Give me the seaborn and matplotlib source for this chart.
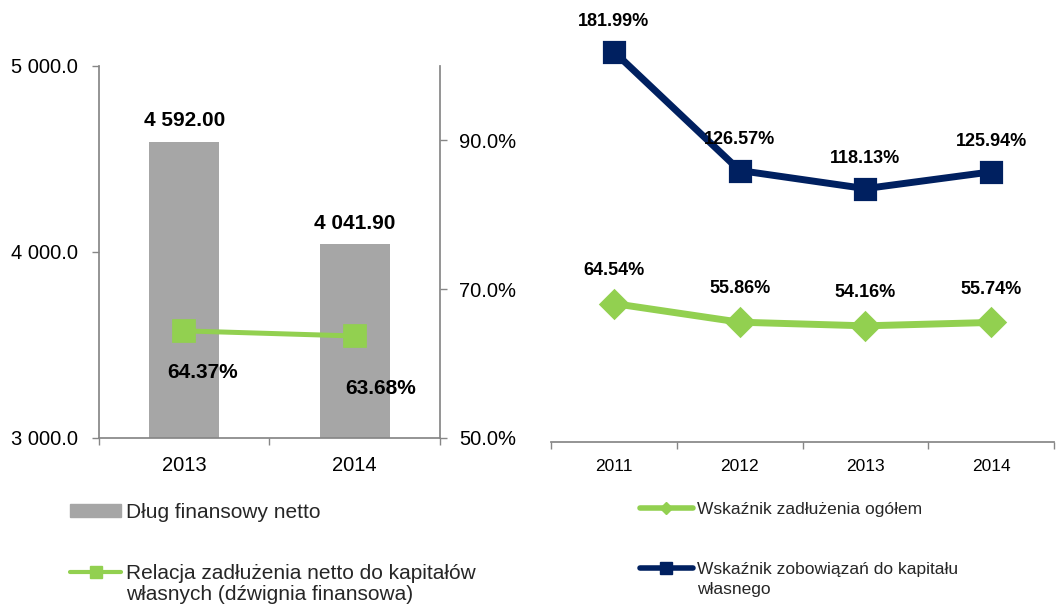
import matplotlib
matplotlib.use("Agg")
import matplotlib.pyplot as plt
from matplotlib.ticker import FuncFormatter
from matplotlib.lines import Line2D
from matplotlib.patches import Patch
import seaborn as sns
import pandas as pd

# left panel: net financial debt + leverage ratio
years_left = ["2013", "2014"]
net_debt = [4592.00, 4041.90]
leverage = [64.37, 63.68]

# right panel: debt ratios
years_right = ["2011", "2012", "2013", "2014"]
debt_ratio = [64.54, 55.86, 54.16, 55.74]
liab_equity = [181.99, 126.57, 118.13, 125.94]

GRAY = "#A6A6A6"
GREEN = "#92D050"
NAVY = "#002060"
AXIS = "#868686"

sns.set_theme(style="white")
plt.rcParams["font.family"] = ["Liberation Sans", "DejaVu Sans"]

fig = plt.figure(figsize=(10.64, 6.07), dpi=100)
ax1 = fig.add_axes([0.0930, 0.2789, 0.3205, 0.6124])
ax2 = ax1.twinx()
ax3 = fig.add_axes([0.5179, 0.2718, 0.4727, 0.7068])

left_df = pd.DataFrame({"year": years_left, "debt": net_debt, "lev": leverage})
right_df = pd.DataFrame({"year": years_right, "total": debt_ratio, "liab": liab_equity})

# --- left panel ---
sns.barplot(data=left_df, x="year", y="debt", color=GRAY, width=0.41,
            saturation=1, edgecolor=GRAY, linewidth=0, ax=ax1)
sns.pointplot(data=left_df, x="year", y="lev", color=GREEN, markers="s",
              markersize=14, linewidth=3.6, errorbar=None, ax=ax2)

ax1.set_ylim(3000, 5000)
ax1.set_yticks([3000, 4000, 5000])
ax1.yaxis.set_major_formatter(FuncFormatter(lambda v, p: f"{v:,.1f}".replace(",", " ")))
ax2.set_ylim(50, 100)
ax2.set_yticks([50, 70, 90])
ax2.yaxis.set_major_formatter(FuncFormatter(lambda v, p: f"{v:.1f}%"))

ax1.set_xlim(-0.5, 1.5)
ax1.set_xticks([0, 1])
ax1.set_xticklabels(years_left)
ax1.set_xticks([-0.5, 0.5, 1.5], minor=True)
ax1.tick_params(axis="x", which="major", length=0, pad=13, labelsize=14.5, colors="black")
ax1.tick_params(axis="x", which="minor", bottom=True, length=5, width=1, color=AXIS)
ax1.tick_params(axis="y", left=True, length=5, width=1, color=AXIS, pad=10,
                labelsize=14.5, labelcolor="black")
ax2.tick_params(axis="y", right=True, length=5, width=1, color=AXIS, pad=9,
                labelsize=14.5, labelcolor="black")

for sp in ["top", "right"]:
    ax1.spines[sp].set_visible(False)
for sp in ["left", "bottom"]:
    ax1.spines[sp].set_color(AXIS)
for sp in ["top", "left", "bottom"]:
    ax2.spines[sp].set_visible(False)
ax2.spines["right"].set_color(AXIS)
for ax in (ax1, ax2):
    ax.set_xlabel("")
    ax.set_ylabel("")

for i, v in enumerate(net_debt):
    ax1.annotate(f"{v:,.2f}".replace(",", " "), (i, v), xytext=(0, 15),
                 textcoords="offset points", ha="center", va="center",
                 fontsize=15, fontweight="bold", color="black")

lev_offsets = [(13, -30), (19, -38)]
for i, v in enumerate(leverage):
    ax2.annotate(f"{v:.2f}%", (i, v), xytext=lev_offsets[i],
                 textcoords="offset points", ha="center", va="center",
                 fontsize=15, fontweight="bold", color="black")

# --- right panel ---
sns.pointplot(data=right_df, x="year", y="total", color=GREEN, markers="D",
              markersize=12, linewidth=5, errorbar=None, ax=ax3)
sns.pointplot(data=right_df, x="year", y="liab", color=NAVY, markers="s",
              markersize=13, linewidth=5, errorbar=None, ax=ax3)
ax3.set_ylim(0, 200)
ax3.set_yticks([])
ax3.set_xlim(-0.5, 3.5)
ax3.set_xticks(range(len(years_right)))
ax3.set_xticklabels(years_right)
ax3.set_xticks([x - 0.5 for x in range(len(years_right) + 1)], minor=True)
ax3.tick_params(axis="x", which="major", length=0, pad=12, labelsize=12.5, colors="black")
ax3.tick_params(axis="x", which="minor", bottom=True, length=5, width=1, color=AXIS)
for sp in ["top", "left", "right"]:
    ax3.spines[sp].set_visible(False)
ax3.spines["bottom"].set_color(AXIS)
ax3.set_xlabel("")
ax3.set_ylabel("")

for i, v in enumerate(liab_equity):
    ax3.annotate(f"{v:.2f}%", (i, v), xytext=(0, 22), textcoords="offset points",
                 ha="center", va="center", fontsize=13, fontweight="bold", color="black")
for i, v in enumerate(debt_ratio):
    ax3.annotate(f"{v:.2f}%", (i, v), xytext=(0, 24), textcoords="offset points",
                 ha="center", va="center", fontsize=13, fontweight="bold", color="black")

# --- legends ---
leg_kw = dict(frameon=False, borderpad=0, borderaxespad=0, loc="center left")
blank = Line2D([], [], linestyle="none")

fig.legend([Patch(facecolor=GRAY, edgecolor=GRAY)], ["Dług finansowy netto"],
           bbox_to_anchor=(0.0658, 0.1565), fontsize=15, handlelength=2.45,
           handleheight=0.6, handletextpad=0.25, **leg_kw)
fig.legend([Line2D([], [], color=GREEN, lw=3, marker="s", ms=9), blank],
           ["Relacja zadłużenia netto do kapitałów", "własnych (dźwignia finansowa)"],
           bbox_to_anchor=(0.0658, 0.0375), fontsize=15, handlelength=2.45,
           handletextpad=0.25, labelspacing=0.08, **leg_kw)
fig.legend([Line2D([], [], color=GREEN, lw=4, marker="D", ms=6)],
           ["Wskaźnik zadłużenia ogółem"],
           bbox_to_anchor=(0.6015, 0.1614), fontsize=12.5, handlelength=3.05,
           handletextpad=0.25, **leg_kw)
fig.legend([Line2D([], [], color=NAVY, lw=4, marker="s", ms=8), blank],
           ["Wskaźnik zobowiązań do kapitału", "własnego"],
           bbox_to_anchor=(0.6015, 0.0455), fontsize=12.5, handlelength=3.05,
           handletextpad=0.25, labelspacing=0.25, **leg_kw)

fig.savefig("out.png", dpi=100)
